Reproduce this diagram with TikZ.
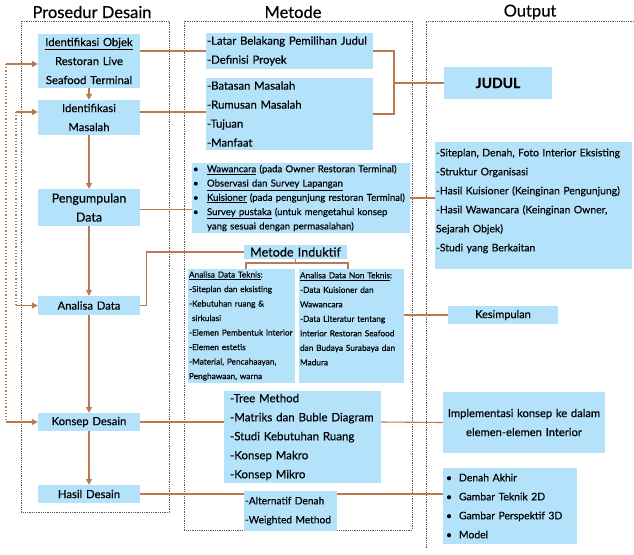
\documentclass[tikz,border=0pt]{standalone}
\usepackage{fontspec}
\setmainfont{Lato}[FakeBold=0.35]
\usetikzlibrary{arrows.meta}
\definecolor{boxblue}{RGB}{180,226,250}
\definecolor{lnbrown}{RGB}{184,122,78}
\begin{document}
\begin{tikzpicture}[x=1pt,y=-1pt,
  bx/.style={fill=boxblue, draw=none, inner xsep=1pt, inner ysep=0pt, align=center},
  lst/.style={bx, align=left},
  hdr/.style={font=\fontsize{16.5}{18}\selectfont, inner sep=0pt},
  fA/.style={font=\fontsize{11.3}{19}\selectfont},
  fB/.style={font=\fontsize{12.5}{19}\selectfont},
  fS/.style={font=\fontsize{9.6}{14.3}\selectfont},
  fT/.style={font=\fontsize{8.3}{14.5}\selectfont},
  fO/.style={font=\fontsize{10.4}{19}\selectfont},
  frm/.style={draw=black!65, densely dotted, line width=0.8pt},
  ln/.style={draw=lnbrown, line width=1.1pt},
  arr/.style={ln, -{Triangle[length=6pt,width=6pt]}},
  fbl/.style={draw=lnbrown, line width=1.2pt, dotted}]
\useasboundingbox (0,0) rectangle (634,554);

% frames
\draw[frm] (21,21) rectangle (169,512);
\draw[frm] (184,21) rectangle (412,530);
\draw[frm] (634,21) -- (426,21) -- (426,548);

% headers
\node[hdr] (h1) at (92,12) {Prosedur Desain};
\node[hdr] (h2) at (293,12) {Metode};
\node[hdr] (h3) at (530,12) {Output};

% column 1
\node[bx, fA, minimum width=102pt, minimum height=54pt, text width=100pt] (A) at (89,61) {\underline{Identifikasi Objek}\\Restoran Live\\Seafood Terminal};
\node[bx, fA, minimum width=102pt, minimum height=35pt, text width=100pt] (B) at (89,117.5) {Identifikasi\\Masalah};
\node[bx, fB, minimum width=102pt, minimum height=37pt, text width=100pt] (C) at (89,207.5) {Pengumpulan\\Data};
\node[bx, fA, minimum width=102pt, minimum height=19pt, text width=100pt] (D) at (89,305.5) {Analisa Data};
\node[bx, fA, minimum width=102pt, minimum height=18pt, text width=100pt] (E) at (89,422) {Konsep Desain};
\node[bx, fA, minimum width=102pt, minimum height=18pt, text width=100pt] (F) at (89,494) {Hasil Desain};

% column 2
\node[lst, fA, minimum width=167pt, minimum height=36pt, text width=165pt] (M1) at (289.5,51) {-Latar Belakang Pemilihan Judul\\-Definisi Proyek};
\node[lst, fA, minimum width=167pt, minimum height=72pt, text width=165pt] (M2) at (289.5,114) {-Batasan Masalah\\-Rumusan Masalah\\-Tujuan\\-Manfaat};
\node[lst, fS, minimum width=218pt, minimum height=70pt, text width=216pt] (M3) at (301,198) {%
\makebox[14pt][l]{•}\underline{Wawancara} (pada Owner Restoran Terminal)\\
\makebox[14pt][l]{•}\underline{Observasi dan Survey Lapangan}\\
\makebox[14pt][l]{•}\underline{Kuisioner} (pada pengunjung restoran Terminal)\\
\makebox[14pt][l]{•}\underline{Survey pustaka} (untuk mengetahui konsep\\
\hspace*{14pt}yang sesuai dengan permasalahan)};
\node[bx, font=\fontsize{12.6}{14}\selectfont, minimum width=103pt, minimum height=14pt, text width=101pt] (MI) at (295.5,252) {Metode Induktif};
\node[lst, fT, minimum width=107pt, minimum height=114pt, text width=105pt] (M4) at (241.5,326) {%
\underline{Analisa Data Teknis}:\\-Siteplan dan eksisting\\-Kebutuhan ruang \&\\\hspace*{3pt}sirkulasi\\-Elemen Pembentuk interior\\-Elemen estetis\\-Material, Pencahaayan,\\Penghawaan, warna};
\node[lst, fT, minimum width=105pt, minimum height=114pt, text width=103pt] (M5) at (351.5,326) {%
\underline{Analisa Data Non Teknis}:\\-Data Kuisioner dan\\Wawancara\\-Data Literatur tentang\\Interior Restoran Seafood\\dan Budaya Surabaya dan\\Madura\\~};
\node[lst, font=\fontsize{11.5}{19}\selectfont, inner xsep=6pt, minimum width=157pt, minimum height=92pt, text width=145pt] (M6) at (302.5,437) {-Tree Method\\-Matriks dan Buble Diagram\\-Studi Kebutuhan Ruang\\-Konsep Makro\\-Konsep Mikro};
\node[lst, font=\fontsize{10.2}{19}\selectfont, minimum width=93pt, minimum height=40pt, text width=91pt] (M7) at (290.5,511) {-Alternatif Denah\\-Weighted Method};

% column 3
\node[bx, font=\fontsize{14}{16}\bfseries\selectfont, minimum width=108pt, minimum height=32pt, text width=106pt] (J) at (498,83) {JUDUL};
\node[lst, fO, minimum width=197pt, minimum height=127pt, text width=195pt] (O2) at (533.5,205.5) {-Siteplan, Denah, Foto Interior Eksisting\\-Struktur Organisasi\\-Hasil Kuisioner (Keinginan Pengunjung)\\-Hasil Wawancara (Keinginan Owner,\\Sejarah Objek)\\-Studi yang Berkaitan\\[-8pt]~};
\node[bx, font=\fontsize{11}{19}\selectfont, minimum width=110pt, minimum height=18pt, text width=108pt] (K) at (503,315) {Kesimpulan};
\node[bx, font=\fontsize{11.2}{19}\selectfont, minimum width=162pt, minimum height=61pt, text width=160pt] (IMP) at (524,422.5) {Implementasi konsep ke dalam\\elemen-elemen Interior};
\node[lst, fO, inner xsep=3pt, minimum width=134pt, minimum height=76pt, text width=128pt] (OUT) at (510,506) {%
\makebox[13pt][l]{•}Denah Akhir\\\makebox[13pt][l]{•}Gambar Teknik 2D\\\makebox[13pt][l]{•}Gambar Perspektif 3D\\\makebox[13pt][l]{•}Model};

% column 1 flow
\draw[arr] (A) -- (B);
\draw[arr] (B) -- (C);
\draw[arr] (C) -- (D);
\draw[arr] (D) -- (E);
\draw[arr] (E) -- (F);

% feedback loops
\coordinate (fa1) at (6,64);
\coordinate (fa2) at (6,422);
\coordinate (fb1) at (16,112);
\coordinate (fb2) at (16,305.5);
\draw[fbl] (fa1) -- (fa2);
\draw[fbl] (fb1) -- (fb2);
\draw[arr] (fa1) -- (fa1 -| A.west);
\draw[arr] (fa2) -- (E.west);
\draw[arr] (fb1) -- (fb1 -| B.west);
\draw[arr] (fb2) -- (D.west);

% connectors
\draw[ln] (A.east |- M1.west) -- (M1.west);
\draw[ln] ([yshift=5.5pt]B.east) -- ([yshift=5.5pt]B.east -| M2.west);
\coordinate (jj) at (394,83);
\draw[ln] (M1.east) -| (jj) |- (M2.east);
\draw[ln] (jj) -- (J.west);
\draw[ln] ([yshift=-2pt]C.east) -- ([yshift=-2pt]C.east -| M3.west);
\draw[ln] (M3.east) -- (M3.east -| O2.west);
\draw[ln] (D.east) -- ++(6,0) |- (MI.west);
\coordinate (brk) at (295.5,263);
\draw[ln] (MI.south) -- (brk);
\draw[ln] ([xshift=4.5pt]M4.north) |- (brk) -| ([xshift=-3.5pt]M5.north);
\draw[ln] (M5.east |- K.west) -- (K.west);
\draw[ln] (E.east) -- (E.east -| M6.west);
\draw[ln] (E.east -| M6.east) -- (IMP.west);
\draw[ln] (F.east) -- (F.east -| M7.west);
\draw[ln] (F.east -| M7.east) -- (F.east -| OUT.west);
\end{tikzpicture}
\end{document}
